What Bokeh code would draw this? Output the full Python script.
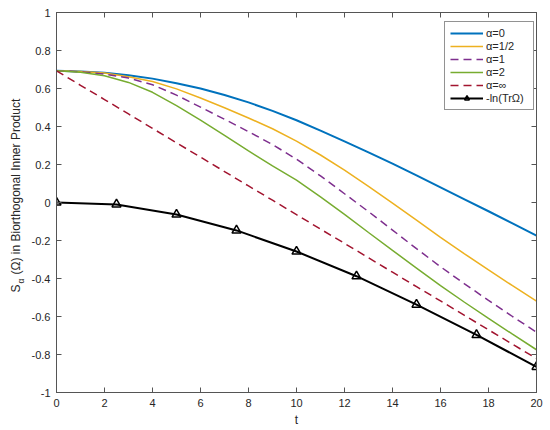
import math
from bokeh.plotting import figure
from bokeh.models import LinearAxis, FixedTicker, Label, Legend, LegendItem, Range1d
from bokeh.embed import file_html
from bokeh.resources import INLINE

# ---- data ----
t = [0, 1, 2, 3, 4, 5, 6, 7, 8, 9, 10, 11, 12, 13, 14, 15, 16, 17, 18, 19, 20]
s_alpha0 = [0.693, 0.690, 0.683, 0.670, 0.652, 0.628, 0.600, 0.566, 0.527, 0.482, 0.433,
            0.378, 0.322, 0.264, 0.205, 0.143, 0.080, 0.017, -0.046, -0.110, -0.174]
s_alpha_half = [0.693, 0.690, 0.681, 0.662, 0.637, 0.598, 0.550, 0.499, 0.445, 0.388, 0.323,
                0.250, 0.170, 0.085, -0.003, -0.093, -0.183, -0.270, -0.355, -0.438, -0.519]
s_alpha1 = [0.693, 0.688, 0.676, 0.655, 0.620, 0.565, 0.502, 0.438, 0.373, 0.305, 0.228,
            0.140, 0.046, -0.048, -0.145, -0.243, -0.338, -0.428, -0.515, -0.600, -0.683]
s_alpha2 = [0.693, 0.686, 0.667, 0.632, 0.580, 0.510, 0.433, 0.353, 0.272, 0.193, 0.118,
            0.030, -0.062, -0.158, -0.252, -0.345, -0.437, -0.525, -0.610, -0.693, -0.775]
s_alpha_inf = [0.693, 0.617, 0.542, 0.466, 0.390, 0.314, 0.239, 0.163, 0.087, 0.012, -0.064,
               -0.140, -0.215, -0.291, -0.367, -0.443, -0.518, -0.594, -0.670, -0.746, -0.821]
t_marks = [0, 2.5, 5, 7.5, 10, 12.5, 15, 17.5, 20]
neg_ln_tr = [0.0, -0.010, -0.063, -0.147, -0.258, -0.388, -0.537, -0.697, -0.865]

x_ticks = [0, 2, 4, 6, 8, 10, 12, 14, 16, 18, 20]
y_ticks = [-1, -0.8, -0.6, -0.4, -0.2, 0, 0.2, 0.4, 0.6, 0.8, 1]
y_tick_labels = ["-1", "-0.8", "-0.6", "-0.4", "-0.2", "0", "0.2", "0.4", "0.6", "0.8", "1"]

legend_labels = ["α=0", "α=1/2", "α=1", "α=2", "α=∞", "-ln(TrΩ)"]
colors = ["#0072BD", "#EDB120", "#7E2F8E", "#77AC30", "#A2142F", "#000000"]

y_label_main = "S\u00a0\u00a0\u00a0(Ω) in Biorthogonal Inner Product"
y_label_sub = "α"

FONT = "Liberation Sans"
TXT = "#262626"
AX = "#555555"

p = figure(frame_width=480, frame_height=380, output_backend="svg", toolbar_location=None,
           x_range=Range1d(0, 20), y_range=Range1d(-1, 1),
           min_border_left=56, min_border_right=12, min_border_top=12, min_border_bottom=36)
p.grid.visible = False
p.outline_line_color = AX
p.background_fill_color = "white"
p.border_fill_color = "white"

for ax in [p.xaxis[0], p.yaxis[0]]:
    ax.major_tick_in = 5
    ax.major_tick_out = 0
    ax.minor_tick_line_color = None
    ax.axis_line_color = AX
    ax.major_tick_line_color = AX
    ax.major_label_text_font = FONT
    ax.major_label_text_font_size = "11px"
    ax.major_label_text_color = TXT
    ax.major_label_standoff = 6

p.xaxis[0].ticker = FixedTicker(ticks=x_ticks)
p.yaxis[0].ticker = FixedTicker(ticks=y_ticks)
p.yaxis[0].major_label_overrides = {v: s for v, s in zip(y_ticks, y_tick_labels)}
p.xaxis[0].axis_label = "t"
p.xaxis[0].axis_label_text_font = FONT
p.xaxis[0].axis_label_text_font_size = "12px"
p.xaxis[0].axis_label_text_font_style = "normal"
p.xaxis[0].axis_label_text_color = TXT
p.xaxis[0].axis_label_standoff = 3

# box ticks on top and right (no labels)
top = LinearAxis(ticker=FixedTicker(ticks=x_ticks), major_tick_in=5, major_tick_out=0,
                 minor_tick_line_color=None, axis_line_color=AX, major_tick_line_color=AX,
                 major_label_text_font_size="0px", major_label_text_color=None,
                 major_label_standoff=0)
right = LinearAxis(ticker=FixedTicker(ticks=y_ticks), major_tick_in=5, major_tick_out=0,
                   minor_tick_line_color=None, axis_line_color=AX, major_tick_line_color=AX,
                   major_label_text_font_size="0px", major_label_text_color=None,
                   major_label_standoff=0)
p.add_layout(top, "above")
p.add_layout(right, "right")

r0 = p.line(t, s_alpha0, line_color=colors[0], line_width=2)
r1 = p.line(t, s_alpha_half, line_color=colors[1], line_width=1.5)
r2 = p.line(t, s_alpha1, line_color=colors[2], line_width=1.5, line_dash="8 5")
r3 = p.line(t, s_alpha2, line_color=colors[3], line_width=1.5)
r4 = p.line(t, s_alpha_inf, line_color=colors[4], line_width=1.5, line_dash="8 5")
r5 = p.line(t_marks, neg_ln_tr, line_color=colors[5], line_width=2)
r5m = p.scatter(t_marks, neg_ln_tr, marker="triangle", size=9, line_color=colors[5],
                line_width=1.5, fill_color="white", fill_alpha=0.0)

items = [LegendItem(label=legend_labels[0], renderers=[r0]),
         LegendItem(label=legend_labels[1], renderers=[r1]),
         LegendItem(label=legend_labels[2], renderers=[r2]),
         LegendItem(label=legend_labels[3], renderers=[r3]),
         LegendItem(label=legend_labels[4], renderers=[r4]),
         LegendItem(label=legend_labels[5], renderers=[r5, r5m])]
legend = Legend(items=items, location=(388, 282), margin=0, padding=5, spacing=1,
                glyph_width=33, glyph_height=12, label_height=12, label_standoff=3,
                label_width=42,
                label_text_font=FONT, label_text_font_size="11px", label_text_color=TXT,
                border_line_color=TXT, border_line_width=1, background_fill_color="white",
                background_fill_alpha=1.0)
p.add_layout(legend)

# y-axis label (side panel, canvas coordinates) with subscript alpha
lab_main = Label(x=15, y=292, x_units="canvas", y_units="canvas", text=y_label_main,
                 angle=math.pi / 2, text_font=FONT, text_font_size="12px", text_color=TXT,
                 text_align="left", text_baseline="alphabetic")
lab_sub = Label(x=20, y=283, x_units="canvas", y_units="canvas", text=y_label_sub,
                angle=math.pi / 2, text_font=FONT, text_font_size="8.5px", text_color=TXT,
                text_align="left", text_baseline="alphabetic")
p.add_layout(lab_main, "left")
p.add_layout(lab_sub, "left")

open("out.html", "w").write(file_html(p, INLINE))
